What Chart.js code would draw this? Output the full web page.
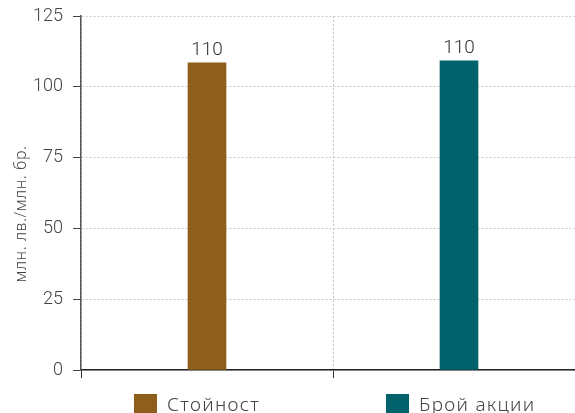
<!DOCTYPE html>
<html lang="bg">
<head>
<meta charset="utf-8">
<script src="https://cdn.jsdelivr.net/npm/chart.js@4"></script>
<style>
  html, body { margin: 0; padding: 0; overflow: hidden; background: #fff; }
  #wrap { width: 590px; height: 413px; }
</style>
</head>
<body>
<div id="wrap"><canvas id="barChart" width="590" height="413"></canvas></div>
<script>
// data
var categories = ['Стойност', 'Брой акции'];
var valueSeries = [108.5, null];
var sharesSeries = [null, 109.2];
var barLabels = ['110', '110'];
var yTicks = [0, 25, 50, 75, 100, 125];
var yTitle = 'млн. лв./млн. бр.';

var ctx = document.getElementById('barChart');

// "110" above each bar
const topLabels = {
    id: 'topLabels',
    afterDatasetsDraw: (chart) => {
        let c = chart.ctx;
        c.save();
        c.font = '300 19px Roboto';
        c.fillStyle = '#333';
        c.textAlign = 'center';
        c.textBaseline = 'alphabetic';
        chart.data.datasets.forEach((ds, di) => {
            chart.getDatasetMeta(di).data.forEach((bar, i) => {
                if (ds.data[i] == null) return;
                c.fillText(barLabels[i], bar.x, bar.y - 8);
            });
        });
        c.restore();
    }
};

// legend under each category + y title placed like the original
const bottomLegend = {
    id: 'bottomLegend',
    afterDraw: (chart) => {
        let c = chart.ctx;
        let x = chart.scales.x;
        c.save();
        c.font = '300 19px "Noto Sans"';
        c.letterSpacing = '1.3px';
        c.textBaseline = 'alphabetic';
        chart.data.datasets.forEach((ds, i) => {
            let left = x.getPixelForValue(i) - 73;
            c.fillStyle = ds.backgroundColor;
            c.fillRect(left, 394, 23, 22);
            c.fillStyle = '#444';
            c.fillText(ds.label, left + 33, 411);
        });
        // axis title
        c.translate(21, 214);
        c.rotate(-Math.PI / 2);
        c.font = '300 16px "Noto Sans"';
        c.letterSpacing = '0.6px';
        c.textAlign = 'center';
        c.textBaseline = 'middle';
        c.fillStyle = '#444';
        c.fillText(yTitle, 0, 0);
        c.restore();
    }
};

var barChart = new Chart(ctx, {
    type: 'bar',
    data: {
        labels: categories,
        datasets: [
            {
                label: 'Стойност',
                data: valueSeries,
                backgroundColor: '#8E5E1B'
            },
            {
                label: 'Брой акции',
                data: sharesSeries,
                backgroundColor: '#01626C'
            }
        ]
    },
    options: {
        responsive: false,
        animation: false,
        layout: { padding: { top: 16, right: 5, bottom: 35, left: 0 } },
        datasets: { bar: { skipNull: true, barThickness: 38 } },
        plugins: {
            legend: { display: false },
            tooltip: { enabled: false }
        },
        scales: {
            x: {
                offset: true,
                grid: { offset: true, color: '#c8c8c8', tickColor: '#333', tickLength: 8 },
                border: { color: '#222', width: 1.5, dash: [2, 2] },
                ticks: { display: false }
            },
            y: {
                min: 0,
                max: 125,
                afterBuildTicks: (axis) => { axis.ticks = yTicks.map(v => ({ value: v })); },
                afterFit: (axis) => { axis.width = 81; axis.paddingTop = 0; axis.paddingBottom = 0; },
                grid: { color: '#c8c8c8', tickColor: '#444', tickLength: 8 },
                border: { color: '#555', width: 1.5, dash: [2, 2] },
                ticks: { padding: 10, color: '#444', font: { family: 'Roboto', size: 18, weight: 300 } }
            }
        }
    },
    plugins: [topLabels, bottomLegend]
});
</script>
</body>
</html>
